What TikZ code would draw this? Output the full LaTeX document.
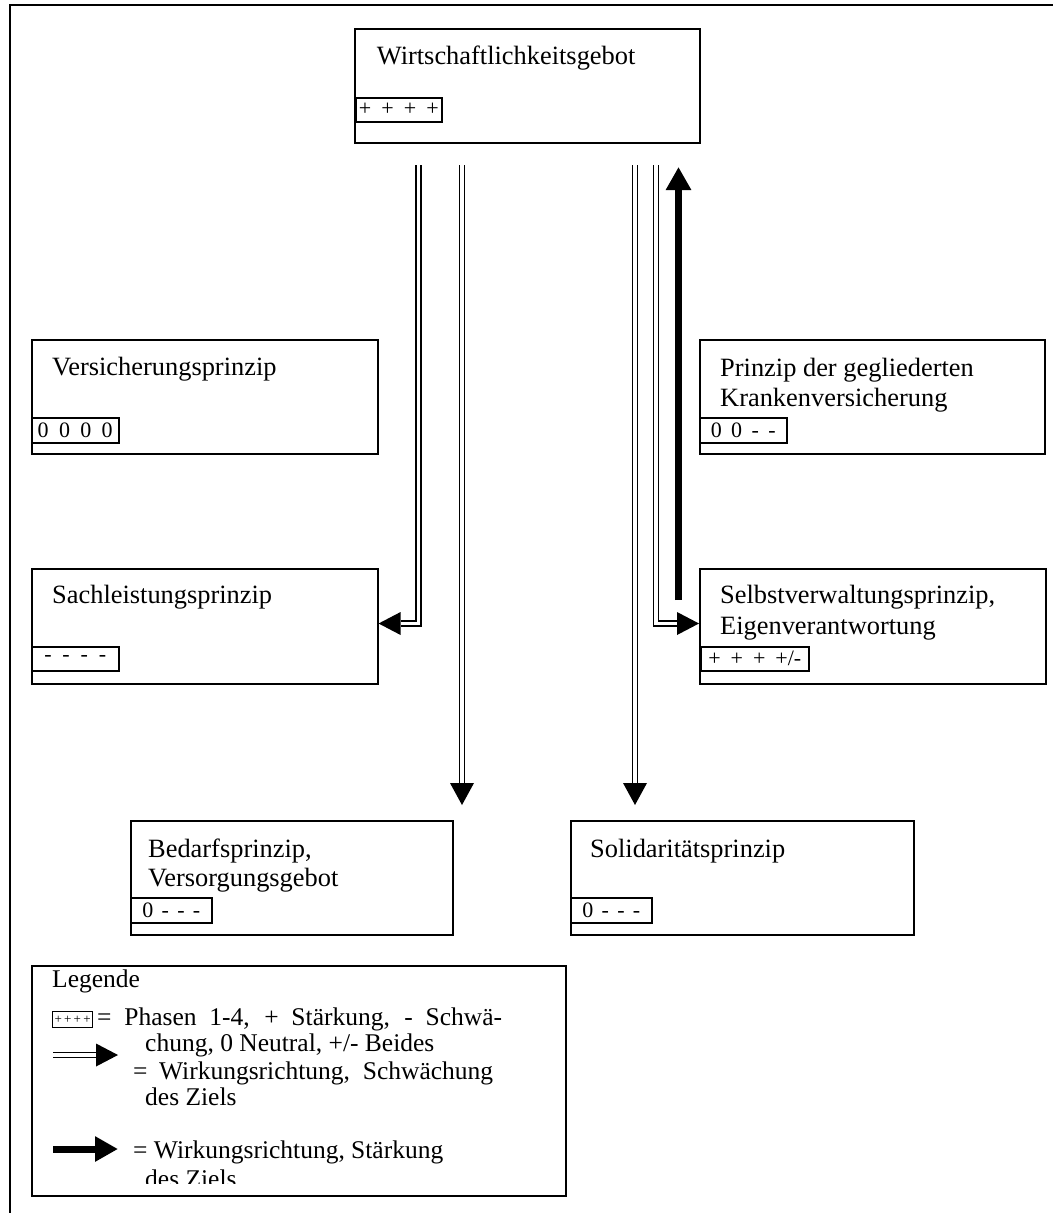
\documentclass[tikz,border=0pt]{standalone}
\usepackage{fontspec}
\setmainfont{Liberation Serif}
\usetikzlibrary{arrows.meta}
\begin{document}
\begin{tikzpicture}[x=1pt,y=-1pt,
  box/.style={draw,line width=1.6pt,inner sep=0,anchor=north west},
  tag/.style={draw,line width=1.5pt,inner sep=0,anchor=north west,font=\fontsize{22}{24}\selectfont},
  lbl/.style={anchor=base west,inner sep=0,font=\fontsize{26.4}{31}\selectfont},
  lgd/.style={anchor=base west,inner sep=0,font=\fontsize{25.5}{29}\selectfont},
  dbl/.style={draw,line width=1.6pt,double distance=3.4pt,double=white},
  strong/.style={line width=7pt,-{Triangle[length=23pt,width=24pt]}}
]
\useasboundingbox (0,0) rectangle (1053,1213);
\draw[line width=2pt] (10,1213) -- (10,5) -- (1053,5);

% boxes
\node[box,minimum width=345pt,minimum height=114pt] (wirt) at (354,28) {};
\node[lbl] (wirtT) at (376.7,64) {Wirtschaftlichkeitsgebot};
\node[tag,minimum width=86pt,minimum height=24pt] (wirtG) at (355,97) {\makebox[80pt][s]{+ + + +}};

\node[box,minimum width=346pt,minimum height=114pt] (vers) at (31,339) {};
\node[lbl] (versT) at (52,375) {Versicherungsprinzip};
\node[tag,minimum width=87pt,minimum height=25pt] (versG) at (31,417) {\makebox[75pt][s]{0 0 0 0}};

\node[box,minimum width=345pt,minimum height=114pt] (prin) at (699,339) {};
\node[lbl] (prinT1) at (720,376) {Prinzip der gegliederten};
\node[lbl] (prinT2) at (720,406) {Krankenversicherung};
\node[tag,minimum width=87pt,minimum height=25pt] (prinG) at (699,417) {\makebox[65pt][s]{0 0 - -}};

\node[box,minimum width=346pt,minimum height=115pt] (sach) at (31,568) {};
\node[lbl] (sachT) at (52,603) {Sachleistungsprinzip};
\node[tag,minimum width=87pt,minimum height=24pt] (sachG) at (31,646) {\makebox[62pt][s]{- - - -}};

\node[box,minimum width=346pt,minimum height=115pt] (selb) at (699,568) {};
\node[lbl] (selbT1) at (720,603) {Selbstverwaltungsprinzip,};
\node[lbl] (selbT2) at (720,634) {Eigenverantwortung};
\node[tag,minimum width=108pt,minimum height=24pt] (selbG) at (700,646) {\makebox[93pt][s]{+ + + +/-}};

\node[box,minimum width=322pt,minimum height=114pt] (bed) at (130,820) {};
\node[lbl] (bedT1) at (148,857) {Bedarfsprinzip,};
\node[lbl] (bedT2) at (148,886) {Versorgungsgebot};
\node[tag,minimum width=81pt,minimum height=25pt] (bedG) at (130,897) {\makebox[58pt][s]{0 - - -}};

\node[box,minimum width=343pt,minimum height=114pt] (sol) at (570,820) {};
\node[lbl] (solT) at (590,857) {Solidaritätsprinzip};
\node[tag,minimum width=81pt,minimum height=25pt] (solG) at (570,897) {\makebox[58pt][s]{0 - - -}};

% connectors
\coordinate (a1s) at (418.5,165);
\coordinate (a1c) at (418.5,623.5);
\draw[dbl] (a1s) -- (a1c) -- ([xshift=22pt]sach.east |- a1c);
\fill (sach.east |- a1c) -- ++(22,-11.5) -- ++(0,23) -- cycle;

\coordinate (a2s) at (462,165);
\coordinate (a2e) at (462,805);
\draw[dbl] (a2s) -- ([yshift=22pt]a2e);
\fill (a2e) -- ++(-12,-22) -- ++(24,0) -- cycle;

\coordinate (a3s) at (635,165);
\coordinate (a3e) at (635,805);
\draw[dbl] (a3s) -- ([yshift=22pt]a3e);
\fill (a3e) -- ++(-12,-22) -- ++(24,0) -- cycle;

\coordinate (a4s) at (656,165);
\coordinate (a4c) at (656,623.5);
\draw[dbl] (a4s) -- (a4c) -- ([xshift=-22pt]selb.west |- a4c);
\fill (selb.west |- a4c) -- ++(-22,-11.5) -- ++(0,23) -- cycle;

\coordinate (a5s) at (678.5,600);
\coordinate (a5e) at (678.5,167);
\draw[strong] (a5s) -- (a5e);

% legend
\node[box,minimum width=534pt,minimum height=230pt] (leg) at (31,965) {};
\begin{scope}
\clip (31,965) rectangle (565,1183);
\node[lgd] (legT) at (52,987) {Legende};
\node[draw,line width=1.2pt,inner sep=0,anchor=north west,minimum width=40pt,minimum height=16pt,font=\fontsize{13}{14}\selectfont] (legG) at (52,1011) {\makebox[36pt][s]{+ + + +}};
\node[lgd] (leg1a) at (97,1025) {\makebox[405pt][s]{= Phasen 1-4, + Stärkung, - Schwä-}};
\node[lgd] (leg1b) at (145,1051) {chung, 0 Neutral, +/- Beides};
\node[lgd] (leg2a) at (133,1079) {\makebox[360pt][s]{= Wirkungsrichtung, Schwächung}};
\node[lgd] (leg2b) at (145,1105) {des Ziels};
\node[lgd] (leg3a) at (133,1158) {= Wirkungsrichtung, Stärkung};
\node[lgd] (leg3b) at (145,1187) {des Ziels};
\end{scope}
\coordinate (ld1) at (53,1055);
\coordinate (ld2) at (118,1055);
\draw[dbl] (ld1) -- ([xshift=-22pt]ld2);
\fill (ld2) -- ++(-22,-11.5) -- ++(0,23) -- cycle;
\coordinate (ls1) at (53,1149);
\coordinate (ls2) at (118,1149);
\draw[strong] (ls1) -- (ls2);
\end{tikzpicture}
\end{document}
